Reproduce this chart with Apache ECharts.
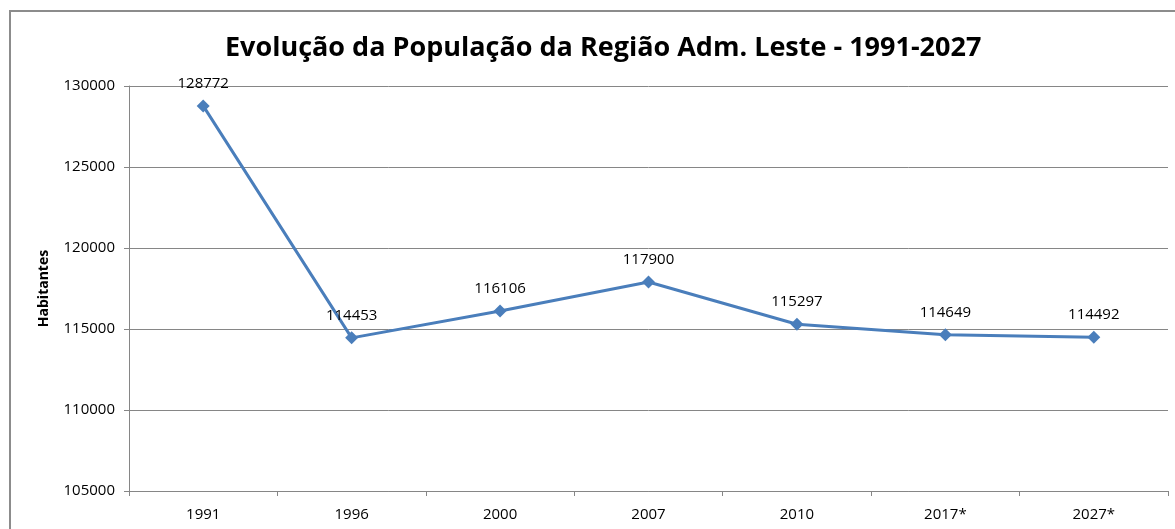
<!DOCTYPE html>
<html><head><meta charset="utf-8">
<script src="https://cdn.jsdelivr.net/npm/echarts@6/dist/echarts.min.js"></script>
<style>html,body{margin:0;padding:0;background:#fff}#c{width:1175px;height:529px}</style>
</head><body><div id="c"></div>
<script>
const categories = ['1991','1996','2000','2007','2010','2017*','2027*'];
const population = [128772,114453,116106,117900,115297,114649,114492];
const yTicks = {min:105000, max:130000, interval:5000};
const titleText = 'Evolução da População da Região Adm. Leste - 1991-2027';
const yName = 'Habitantes';

const chart = echarts.init(document.getElementById('c'), null, {renderer:'canvas'});
const font = 'Open Sans';
chart.setOption({
  backgroundColor:'#fff',
  animation:false,
  title:{text:titleText,left:220,top:30,textStyle:{fontFamily:font,fontWeight:'bold',fontSize:27,color:'#000'}},
  graphic:[{type:'rect',shape:{x:10,y:11,width:1200,height:560},style:{fill:'none',stroke:'#8c8c8c',lineWidth:2},silent:true}],
  grid:{left:129,right:7,top:86,bottom:38,containLabel:false},
  xAxis:{type:'category',data:categories,boundaryGap:true,
    axisLine:{lineStyle:{color:'#868686',width:1}},
    axisTick:{show:true,length:5,lineStyle:{color:'#868686'}},
    axisLabel:{fontFamily:font,fontSize:15,color:'#000',margin:16}},
  yAxis:{type:'value',min:yTicks.min,max:yTicks.max,interval:yTicks.interval,
    name:yName,nameLocation:'middle',nameRotate:90,nameGap:78,
    nameTextStyle:{fontFamily:font,fontWeight:'bold',fontSize:14,color:'#000'},
    axisLine:{show:true,lineStyle:{color:'#868686'}},
    axisTick:{show:true,length:5,lineStyle:{color:'#868686'}},
    splitLine:{lineStyle:{color:'#868686',width:1}},
    axisLabel:{fontFamily:font,fontSize:15,color:'#000',margin:14,formatter:v=>String(v)}},
  series:[{type:'line',data:population,symbol:'diamond',symbolSize:13,
    lineStyle:{color:'#4a7ebb',width:3},itemStyle:{color:'#4a7ebb'},
    label:{show:true,position:'top',distance:8,fontFamily:font,fontSize:15,color:'#000'}}]
});
</script></body></html>
